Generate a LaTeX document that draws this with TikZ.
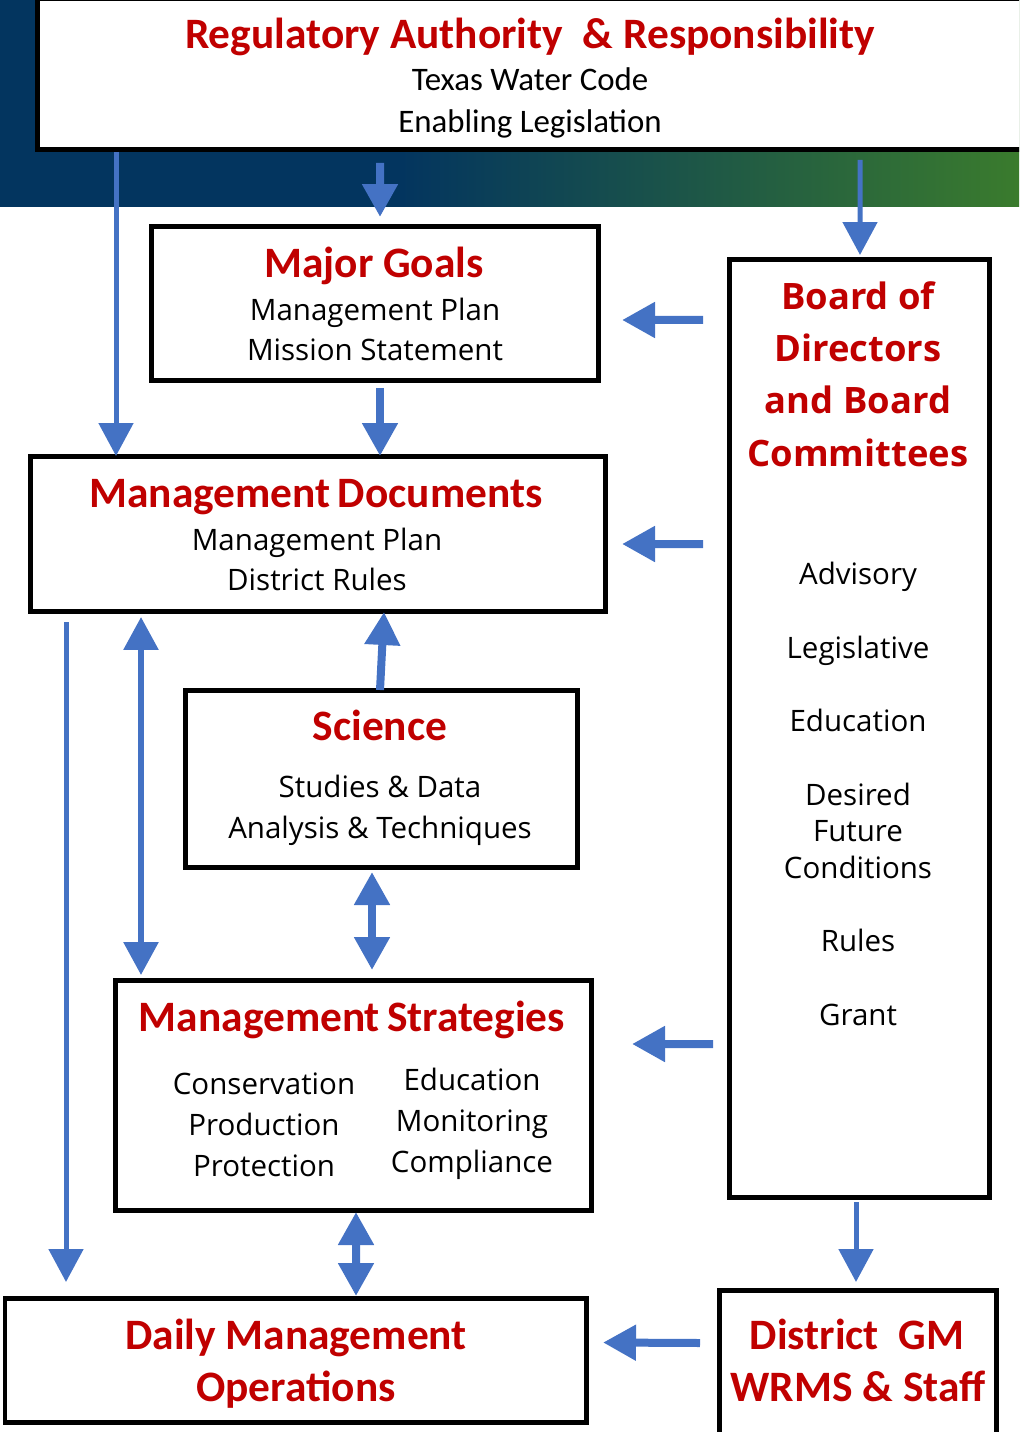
\documentclass[tikz,border=0pt]{standalone}
\usepackage{fontspec}
\setmainfont{Carlito}
\newfontfamily\segoe{Open Sans}
\usetikzlibrary{arrows.meta,calc,fit}

\definecolor{titlered}{HTML}{C00000}
\definecolor{arrowblue}{HTML}{4472C4}
\definecolor{navy}{HTML}{03355F}
\definecolor{leafgreen}{HTML}{3A7B2D}

\tikzset{
  box/.style={draw=black,line width=0.1cm,fill=white,inner sep=0pt,outer sep=0pt},
  hdr/.style={font=\fontsize{24.7}{28}\selectfont\bfseries,text=titlered,
    inner sep=0pt,text height=15.8pt,text depth=0pt},
  boardhdr/.style={font=\segoe\fontsize{20.7}{24}\selectfont\bfseries,text=titlered,
    inner sep=0pt,text height=14.9pt,text depth=0pt},
  body/.style={font=\segoe\fontsize{16.8}{20}\selectfont,
    inner sep=0pt,text height=12.1pt,text depth=0pt},
  lawtxt/.style={font=\fontsize{18.7}{22}\selectfont,
    inner sep=0pt,text height=12pt,text depth=0pt},
  arr/.style={arrowblue,line width=0.16cm,-{Triangle[width=0.68cm,length=0.66cm]}},
  longarr/.style={arr,line width=0.1cm},
  biarr/.style={arrowblue,line width=0.16cm,
    {Triangle[width=0.68cm,length=0.66cm]}-{Triangle[width=0.68cm,length=0.66cm]}}
}

\begin{document}
\begin{tikzpicture}[x=0.02cm,y=-0.02cm]
  \useasboundingbox (0,0) rectangle (1019,1432);
  \clip (0,0) rectangle (1019,1432);

  % banner behind the top box
  \fill[navy] (0,0) rectangle (402,207);
  \shade[left color=navy,right color=leafgreen] (400,0) rectangle (1019,207);

  % boxes
  \node[box,fit={(37,-1) (1030,150)}] (reg) {};
  \node[box,fit={(151,227) (598,381)}] (goals) {};
  \node[box,fit={(729,260) (989,1197)}] (board) {};
  \node[box,fit={(30,456) (605,611)}] (docs) {};
  \node[box,fit={(185,690) (577,867)}] (science) {};
  \node[box,fit={(115,980) (591,1210)}] (strat) {};
  \node[box,fit={(5,1298) (586,1422)}] (daily) {};
  \node[box,fit={(719,1290) (996,1445)}] (gm) {};

  % texts
  \node[hdr] (regT) at (530,35) {Regulatory Authority \ \& Responsibility};
  \node[lawtxt] (regA) at (530,80) {Texas Water Code};
  \node[lawtxt] (regB) at (530,122) {Enabling Legislation};

  \node[hdr] (goalsT) at (374,264) {Major Goals};
  \node[body] (goalsA) at (375,310) {Management Plan};
  \node[body] (goalsB) at (375,350) {Mission Statement};

  \node[boardhdr] (boardA) at (858,296) {Board of};
  \node[boardhdr] (boardB) at (858,348) {Directors};
  \node[boardhdr] (boardC) at (858,400) {and Board};
  \node[boardhdr] (boardD) at (858,453) {Committees};
  \foreach \t/\y [count=\i] in {Advisory/574,Legislative/648,Education/721,
      Desired/795,Future/831,Conditions/868,Rules/941,Grant/1015}
    \node[body] (comm\i) at (858,\y) {\t};

  \node[hdr] (docsT) at (316,494) {Management\,Documents};
  \node[body] (docsA) at (317,540) {Management Plan};
  \node[body] (docsB) at (317,580) {District Rules};

  \node[hdr] (sciT) at (380,727) {Science};
  \node[body] (sciA) at (380,787) {Studies \& Data};
  \node[body] (sciB) at (380,828) {Analysis \& Techniques};

  \node[hdr] (stratT) at (352,1018) {Management\,Strategies};
  \node[body] (stratA) at (264,1084) {Conservation};
  \node[body] (stratB) at (264,1125) {Production};
  \node[body] (stratC) at (264,1166) {Protection};
  \node[body] (stratD) at (472,1080) {Education};
  \node[body] (stratE) at (472,1121) {Monitoring};
  \node[body] (stratF) at (472,1162) {Compliance};

  \node[hdr] (dailyA) at (296,1336) {Daily Management};
  \node[hdr] (dailyB) at (296,1388) {Operations};

  \node[hdr] (gmA) at (857,1336) {District \ GM};
  \node[hdr] (gmB) at (858,1388) {WRMS \& Staff};

  % arrows
  \draw[longarr] ($(reg.south west)+(79,2)$) -- ($(docs.north west)+(86,0)$);
  \draw[arr] ($(reg.south)+(-153.5,13)$) -- ($(goals.north)+(5.5,-10)$);
  \draw[longarr] ($(reg.south)+(326.5,10)$) -- ($(board.north)+(1,-5)$);
  \draw[arr] ($(board.north west)+(-26,60)$) -- ($(goals.east)+(24,16)$);
  \draw[arr] ($(goals.south)+(5.5,7)$) -- ($(docs.north)+(62.5,0)$);
  \draw[arr] ($(board.north west)+(-26,284)$) -- ($(docs.east)+(17,10.5)$);
  \draw[arr] ($(science.north)+(-1,0)$) -- ($(docs.south)+(66.5,1)$);
  \draw[biarr,line width=0.12cm] ($(docs.south west)+(111,6)$) -- ($(strat.north west)+(26,-5)$);
  \draw[longarr] ($(docs.south west)+(36,11)$) -- ($(daily.north west)+(61,-16)$);
  \draw[biarr] ($(science.south)+(-9,5)$) -- ($(strat.north)+(19,-10)$);
  \draw[arr] ($(board.north west)+(-16,784)$) -- ($(strat.east)+(41,-51)$);
  \draw[biarr] ($(strat.south)+(3,2)$) -- ($(daily.north)+(60.5,-2)$);
  \draw[longarr] ($(board.south)+(-3,5)$) -- ($(gm.north)+(-1.5,-8)$);
  \draw[arr] ($(gm.north west)+(-19,53)$) -- ($(daily.east)+(17,-17.5)$);
\end{tikzpicture}
\end{document}
